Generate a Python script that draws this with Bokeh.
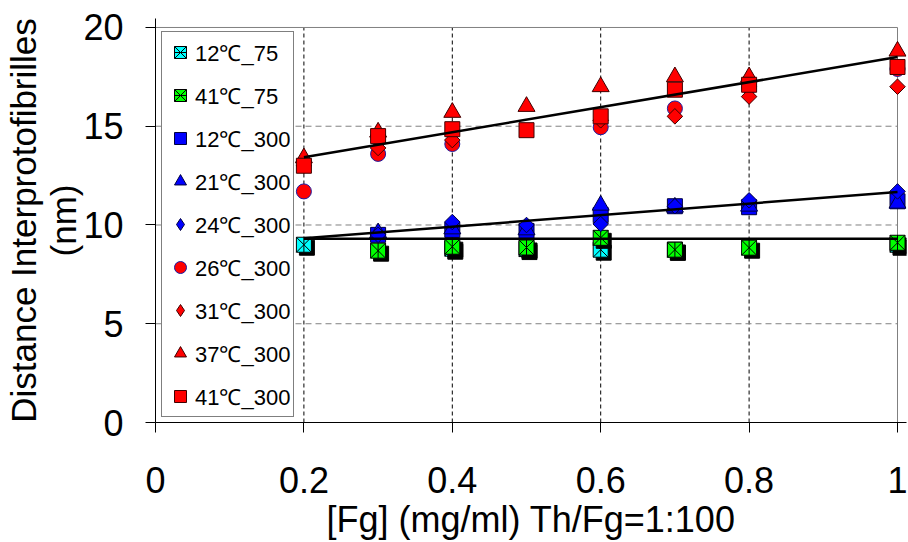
import math
from bokeh.plotting import figure
from bokeh.models import Range1d, FixedTicker, LinearAxis, Legend, LegendItem
from bokeh.embed import file_html
from bokeh.resources import INLINE

# ---------------- data ----------------
x_ticks = [0, 0.2, 0.4, 0.6, 0.8, 1.0]
x_tick_labels = ["0", "0.2", "0.4", "0.6", "0.8", "1"]
y_ticks = [0, 5, 10, 15, 20]
y_tick_labels = ["0", "5", "10", "15", "20"]
xgrid_at = [0.2, 0.4, 0.6, 0.8]
ygrid_at = [5, 10, 15]

x_12_75 = [0.2, 0.4, 0.5, 0.6, 0.7, 1.0]
y_12_75 = [9.0, 8.8, 8.78, 8.75, 8.75, 9.0]
x_41_75 = [0.3, 0.4, 0.5, 0.6, 0.7, 0.8, 1.0]
y_41_75 = [8.7, 8.9, 8.86, 9.35, 8.75, 8.85, 9.1]

x_12_300 = [0.3, 0.4, 0.5, 0.6, 0.7, 0.8, 1.0]
y_12_300 = [9.5, 9.75, 9.7, 10.5, 10.95, 10.9, 11.2]
x_21_300 = [0.3, 0.4, 0.5, 0.6, 0.7, 0.8, 1.0]
y_21_300 = [9.6, 9.8, 9.75, 11.0, 10.9, 10.95, 11.1]
x_24_300 = [0.3, 0.4, 0.5, 0.6, 0.7, 0.8, 1.0]
y_24_300 = [9.5, 10.15, 10.0, 10.05, 10.95, 11.25, 11.7]

x_26_300 = [0.2, 0.3, 0.4, 0.6, 0.7, 0.8, 1.0]
y_26_300 = [11.7, 13.6, 14.1, 14.95, 15.9, 17.0, 17.9]
x_31_300 = [0.2, 0.3, 0.4, 0.6, 0.7, 0.8, 1.0]
y_31_300 = [13.0, 13.9, 14.3, 15.3, 15.5, 16.5, 17.0]
x_37_300 = [0.2, 0.3, 0.4, 0.5, 0.6, 0.7, 0.8, 1.0]
y_37_300 = [13.4, 14.7, 15.7, 16.0, 17.0, 17.5, 17.5, 18.8]
x_41_300 = [0.2, 0.3, 0.4, 0.5, 0.6, 0.7, 0.8, 1.0]
y_41_300 = [13.0, 14.5, 14.85, 14.8, 15.5, 16.85, 17.1, 18.0]

fit_x = [0.2, 1.0]
fit_red = [13.43, 18.5]
fit_blue = [9.33, 11.67]
fit_75 = [9.3, 9.3]

FONT = "Liberation Sans"

# ---------------- figure ----------------
PX_X = 742.0   # pixels per x unit
PX_Y = 19.8    # pixels per y unit
x_end = x_ticks[-1] + 9 / PX_X
y_end = y_ticks[-1] + 9 / PX_Y

p = figure(width=907, height=542,
           x_range=Range1d(0, x_end), y_range=Range1d(0, y_end),
           output_backend="svg", toolbar_location=None,
           min_border_left=155, min_border_right=1,
           min_border_top=18, min_border_bottom=119,
           background_fill_color="white", border_fill_color="white")
p.outline_line_color = None
p.grid.visible = False

# grid lines (from tick arrays)
p.segment(x0=xgrid_at, y0=[y_ticks[0]] * len(xgrid_at), x1=xgrid_at,
          y1=[y_ticks[-1]] * len(xgrid_at),
          line_color="black", line_width=1, line_dash="4 3")
p.segment(x0=[x_ticks[0]] * len(ygrid_at), y0=ygrid_at,
          x1=[x_ticks[-1]] * len(ygrid_at), y1=ygrid_at,
          line_color="#808080", line_width=1, line_dash="6 4")
# plot area border (top / right)
p.segment(x0=[x_ticks[0], x_ticks[-1]], y0=[y_ticks[-1], y_ticks[0]],
          x1=[x_ticks[-1], x_ticks[-1]], y1=[y_ticks[-1], y_ticks[-1]],
          line_color="#808080", line_width=1)

# axes
xa = p.xaxis[0]
xa.ticker = FixedTicker(ticks=x_ticks)
xa.major_label_overrides = {t: l for t, l in zip(x_ticks, x_tick_labels)}
ya = p.yaxis[0]
ya.ticker = FixedTicker(ticks=y_ticks)
ya.major_label_overrides = {t: l for t, l in zip(y_ticks, y_tick_labels)}
for ax in (xa, ya):
    ax.axis_line_color = "black"
    ax.axis_line_width = 1
    ax.major_tick_out = 10
    ax.major_tick_in = 0
    ax.minor_tick_line_color = None
    ax.major_tick_line_color = "black"
    ax.major_label_text_font = FONT
    ax.major_label_text_font_size = "36px"
    ax.major_label_text_color = "black"
    ax.axis_label_text_font = FONT
    ax.axis_label_text_font_style = "normal"
    ax.axis_label_text_color = "black"

xa.major_label_standoff = 34
xa.axis_label = "[Fg] (mg/ml) Th/Fg=1:100"
xa.axis_label_text_font_size = "36px"
xa.axis_label_standoff = 3

ya.major_label_standoff = 22
ya.axis_label = "(nm)"
ya.axis_label_text_font_size = "35px"
ya.axis_label_standoff = -3

ya2 = LinearAxis(ticker=FixedTicker(ticks=[]),
                 axis_label="Distance Interprotofibrilles",
                 axis_line_color=None, major_tick_line_color=None,
                 minor_tick_line_color=None, major_tick_out=0, minor_tick_out=0,
                 major_tick_in=0, minor_tick_in=0,
                 major_label_text_font_size="0px", major_label_standoff=0,
                 axis_label_standoff=-1, axis_label_text_font=FONT,
                 axis_label_text_font_size="35px",
                 axis_label_text_font_style="normal",
                 axis_label_text_color="black")
p.add_layout(ya2, "left")

# ---------------- marks ----------------
dx = 3 / PX_X
dy = 3 / PX_Y
SQ = 15

def shadow(xs, ys):
    p.scatter([x + dx for x in xs], [y - dy for y in ys], marker="square",
              size=SQ, fill_color="black", line_color="black")

shadow(x_12_75, y_12_75)
r1a = p.scatter(x_12_75, y_12_75, marker="square_x", size=SQ,
                fill_color="#00FFFF", line_color="black", line_width=1)
r1b = p.scatter(x_12_75, y_12_75, marker="dash", angle=math.pi / 2, size=SQ,
                line_color="black", line_width=1)
shadow(x_41_75, y_41_75)
r2a = p.scatter(x_41_75, y_41_75, marker="square_x", size=SQ,
                fill_color="#00FF00", line_color="black", line_width=1)
r2b = p.scatter(x_41_75, y_41_75, marker="dash", angle=math.pi / 2, size=SQ,
                line_color="black", line_width=1)

r3 = p.scatter(x_12_300, y_12_300, marker="square", size=SQ,
               fill_color="#0000FF", line_color="#000040", line_width=1)
r4 = p.scatter(x_21_300, y_21_300, marker="triangle", size=17,
               fill_color="#0000FF", line_color="#000040", line_width=1)
r5 = p.scatter(x_24_300, y_24_300, marker="square", angle=math.pi / 4, size=11,
               fill_color="#0000FF", line_color="#000040", line_width=1)

r6 = p.scatter(x_26_300, y_26_300, marker="circle", size=15,
               fill_color="#FF0000", line_color="#1a1aa0", line_width=1)
r7 = p.scatter(x_31_300, y_31_300, marker="square", angle=math.pi / 4, size=11,
               fill_color="#FF0000", line_color="#400000", line_width=1)
r8 = p.scatter(x_37_300, y_37_300, marker="triangle", size=17,
               fill_color="#FF0000", line_color="#400000", line_width=1)
r9 = p.scatter(x_41_300, y_41_300, marker="square", size=SQ,
               fill_color="#FF0000", line_color="#400000", line_width=1)

# legend proxies for the diamond series (legend glyphs are drawn unrotated)
nan = float("nan")
r5L = p.scatter([nan], [nan], marker="diamond", fill_color="#0000FF",
                line_color="#000040", line_width=1)
r7L = p.scatter([nan], [nan], marker="diamond", fill_color="#FF0000",
                line_color="#400000", line_width=1)

# trend lines
p.line(fit_x, fit_red, line_color="black", line_width=2.5)
p.line(fit_x, fit_blue, line_color="black", line_width=2.5)
p.line(fit_x, fit_75, line_color="black", line_width=2.5)

# ---------------- legend ----------------
items = [
    LegendItem(label="12\u2103_75", renderers=[r1a, r1b]),
    LegendItem(label="41\u2103_75", renderers=[r2a, r2b]),
    LegendItem(label="12\u2103_300", renderers=[r3]),
    LegendItem(label="21\u2103_300", renderers=[r4]),
    LegendItem(label="24\u2103_300", renderers=[r5L]),
    LegendItem(label="26\u2103_300", renderers=[r6]),
    LegendItem(label="31\u2103_300", renderers=[r7L]),
    LegendItem(label="37\u2103_300", renderers=[r8]),
    LegendItem(label="41\u2103_300", renderers=[r9]),
]
legend = Legend(items=items, location=(6, 5), margin=0, padding=3,
                spacing=9, glyph_width=30, glyph_height=34, label_height=34,
                label_standoff=0,
                label_text_font=FONT, label_text_font_size="22px",
                label_text_color="black",
                border_line_color="black", border_line_width=1,
                background_fill_color="white", background_fill_alpha=1.0)
p.add_layout(legend)

open("out.html", "w").write(file_html(p, INLINE))
